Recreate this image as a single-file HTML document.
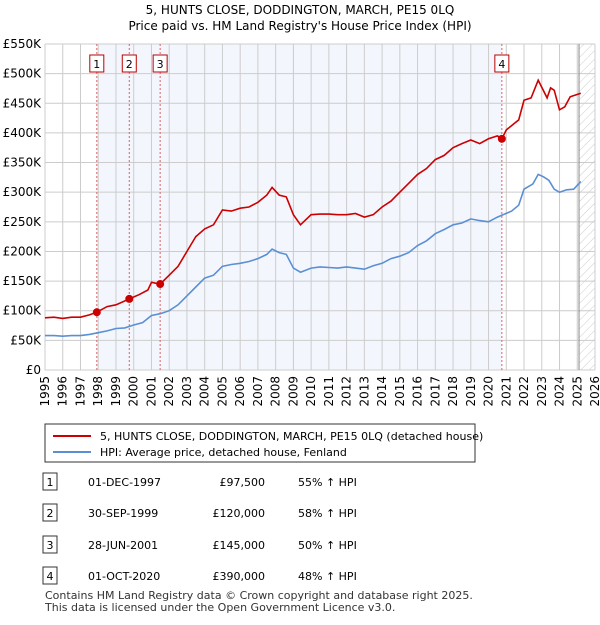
<!DOCTYPE html>
<html><head><meta charset="utf-8"><style>
body{margin:0;background:#fff;font-family:"Liberation Sans","DejaVu Sans",sans-serif;}
svg text{font-family:"DejaVu Sans","Liberation Sans",sans-serif;}
</style></head><body>
<svg width="600" height="620" xmlns="http://www.w3.org/2000/svg">
<defs><pattern id="hatch" width="6" height="6" patternUnits="userSpaceOnUse" patternTransform="rotate(45)"><line x1="0" y1="0" x2="0" y2="6" stroke="#ccc" stroke-width="1"/></pattern></defs>
<text x="300" y="14" text-anchor="middle" font-size="12">5, HUNTS CLOSE, DODDINGTON, MARCH, PE15 0LQ</text>
<text x="300" y="30" text-anchor="middle" font-size="12">Price paid vs. HM Land Registry's House Price Index (HPI)</text>
<g id="plot"></g>
<g>
<rect x="45" y="424" width="430" height="38" fill="#fff" stroke="#333" stroke-width="1"/>
<line x1="53" y1="436" x2="91" y2="436" stroke="#cc0000" stroke-width="2"/>
<text x="100" y="440" font-size="11">5, HUNTS CLOSE, DODDINGTON, MARCH, PE15 0LQ (detached house)</text>
<line x1="53" y1="452" x2="91" y2="452" stroke="#5b8fd4" stroke-width="2"/>
<text x="100" y="456" font-size="11">HPI: Average price, detached house, Fenland</text>
</g>
<g id="table" font-size="11"></g>
<text x="45" y="599" font-size="11" fill="#333">Contains HM Land Registry data © Crown copyright and database right 2025.</text>
<text x="45" y="611" font-size="11" fill="#333">This data is licensed under the Open Government Licence v3.0.</text>
</svg>
<script>
const hpiYears=[1995,1995.5,1996,1996.5,1997,1997.5,1998,1998.5,1999,1999.5,2000,2000.5,2001,2001.5,2002,2002.5,2003,2003.5,2004,2004.5,2005,2005.5,2006,2006.5,2007,2007.5,2007.8,2008.2,2008.6,2009,2009.4,2010,2010.5,2011,2011.5,2012,2012.5,2013,2013.5,2014,2014.5,2015,2015.5,2016,2016.5,2017,2017.5,2018,2018.5,2019,2019.5,2020,2020.5,2020.9,2021.3,2021.7,2022,2022.5,2022.8,2023.1,2023.4,2023.7,2024,2024.4,2024.8,2025.2];
const hpiValues=[58,58,57,58,58,60,63,66,70,71,76,80,92,95,100,110,125,140,155,160,175,178,180,183,188,195,204,198,195,172,165,172,174,173,172,174,172,170,176,180,188,192,198,210,218,230,237,245,248,255,252,250,258,263,268,278,305,314,330,326,320,305,300,304,305,318];
const paidYears=[1995,1995.5,1996,1996.5,1997,1997.5,1997.92,1998.5,1999,1999.75,2000.3,2000.8,2001,2001.49,2002,2002.5,2003,2003.5,2004,2004.5,2005,2005.5,2006,2006.5,2007,2007.5,2007.8,2008.2,2008.6,2009,2009.4,2010,2010.5,2011,2011.5,2012,2012.5,2013,2013.5,2014,2014.5,2015,2015.5,2016,2016.5,2017,2017.5,2018,2018.5,2019,2019.5,2020,2020.5,2020.75,2021,2021.7,2022,2022.4,2022.8,2023.3,2023.5,2023.7,2024,2024.3,2024.6,2025.2];
const paidValues=[88,89,87,89,89,93,97.5,107,110,120,127,135,148,145,160,175,200,225,238,245,270,268,273,275,283,295,308,295,292,262,245,262,263,263,262,262,264,258,262,275,285,300,315,330,340,355,362,375,382,388,382,390,395,390,405,422,455,459,489,459,476,472,439,444,461,467];
const saleYears=[1997.92,1999.75,2001.49,2020.75];
const saleValues=[97.5,120,145,390];
const saleLabels=["1","2","3","4"];
const saleDates=["01-DEC-1997","30-SEP-1999","28-JUN-2001","01-OCT-2020"];
const salePrices=["£97,500","£120,000","£145,000","£390,000"];
const salePcts=["55% ↑ HPI","58% ↑ HPI","50% ↑ HPI","48% ↑ HPI"];
const yTicks=[0,50,100,150,200,250,300,350,400,450,500,550];
const yTickLabels=["£0","£50K","£100K","£150K","£200K","£250K","£300K","£350K","£400K","£450K","£500K","£550K"];
const xTicks=[1995,1996,1997,1998,1999,2000,2001,2002,2003,2004,2005,2006,2007,2008,2009,2010,2011,2012,2013,2014,2015,2016,2017,2018,2019,2020,2021,2022,2023,2024,2025,2026];

const NS="http://www.w3.org/2000/svg";
const L=45,R=595,T=44,B=370;
const xs=y=>L+(y-1995)/(2026-1995)*(R-L);
const ys=v=>B-v/550*(B-T);
function mk(tag,attrs,parent){const e=document.createElementNS(NS,tag);for(const k in attrs)e.setAttribute(k,attrs[k]);parent.appendChild(e);return e;}
const g=document.getElementById('plot');
let r=mk('rect',{x:xs(saleYears[0]),y:T,width:xs(saleYears[3])-xs(saleYears[0]),height:B-T,fill:'#eef3fc',opacity:'0.7'},g);


r=mk('rect',{x:xs(2025.1),y:T,width:R-xs(2025.1),height:B-T,fill:'url(#hatch)'},g);


xTicks.forEach(t=>{const x=xs(t);
 const ln=mk('line',{x1:x,y1:T,x2:x,y2:B,stroke:'#ccc','stroke-width':1},g);
 
 
 const tx=mk('text',{x:0,y:0,'font-size':12,'text-anchor':'end',transform:`translate(${x+4},${B+6}) rotate(-90)`},g);
 tx.textContent=t;
 
 
});
yTicks.forEach((t,i)=>{const y=ys(t);
 const ln=mk('line',{x1:L,y1:y,x2:R,y2:y,stroke:'#ccc','stroke-width':1},g);
 
 
 const tx=mk('text',{x:L-4,y:y+4,'font-size':12,'text-anchor':'end'},g);
 tx.textContent=yTickLabels[i];
 
 
});
const ax=mk('line',{x1:xs(2025.1),y1:T,x2:xs(2025.1),y2:B,stroke:'#888','stroke-width':1},g);


saleYears.forEach((s,i)=>{const x=xs(s);
 const ln=mk('line',{x1:x,y1:T,x2:x,y2:B,stroke:'#e06060','stroke-width':1,'stroke-dasharray':'2,2'},g);
 
 
 const bx=mk('rect',{x:x-7,y:55,width:14,height:17,fill:'#fff',stroke:'#b00','stroke-width':1},g);
 
 
 const tx=mk('text',{x:x,y:68,'font-size':11,'text-anchor':'middle'},g);
 tx.textContent=saleLabels[i];
 
 
});
function line(xv,yv,col,name){const d=xv.map((x,i)=>(i?'L':'M')+xs(x).toFixed(1)+','+ys(yv[i]).toFixed(1)).join('');
 const p=mk('path',{d:d,fill:'none',stroke:col,'stroke-width':1.6},g);
 
 }
line(hpiYears,hpiValues,'#5b8fd4','hpi-line');
line(paidYears,paidValues,'#cc0000','price-paid-line');
saleYears.forEach((s,i)=>{const c=mk('circle',{cx:xs(s),cy:ys(saleValues[i]),r:4,fill:'#cc0000'},g);
 
 });
const tb=document.getElementById('table');
const rowY=[483,514,546,577];
saleLabels.forEach((l,i)=>{const y=rowY[i];
 const bx=mk('rect',{x:43,y:y-10,width:14,height:17,fill:'#fff',stroke:'#333'},tb);
 
 
 const cells=[[50,l,'middle'],[88,saleDates[i],'start'],[265,salePrices[i],'end'],[298,salePcts[i],'start']];
 cells.forEach(c=>{const t=mk('text',{x:c[0],y:y+3,'text-anchor':c[2],'font-size':11},tb);
  t.textContent=c[1];
  
  });
});
</script>
</body></html>
